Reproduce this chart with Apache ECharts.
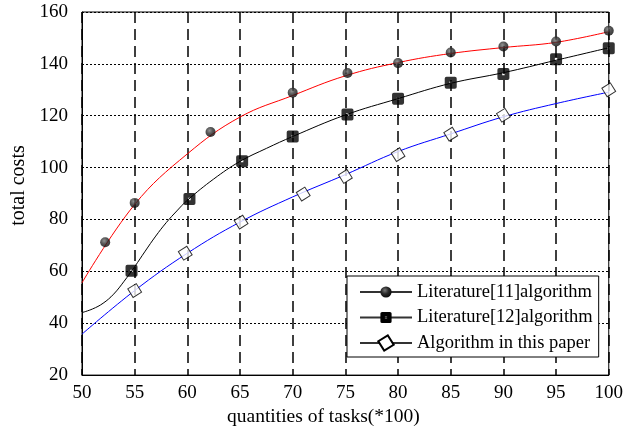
<!DOCTYPE html>
<html>
<head>
<meta charset="utf-8">
<script src="https://cdn.jsdelivr.net/npm/echarts@6/dist/echarts.min.js"></script>
<style>
  html, body { margin: 0; padding: 0; background: #fff; }
  #chart { width: 626px; height: 432px; }
</style>
</head>
<body>
<div id="chart"></div>
<script>
// series names
var names = ['Literature[11]algorithm', 'Literature[12]algorithm', 'Algorithm in this paper'];

// fitted curves
var curveX = [50, 55, 60, 65, 70, 75, 80, 85, 90, 95, 100];
var curve11 = [55.6, 85.8, 105.3, 119.5, 127.8, 135.4, 140.5, 144, 146.3, 148.3, 152.4];
var curve12X = [50, 51, 52, 53, 54, 55, 56, 57, 58, 59, 60, 62.5, 65, 67.5, 70, 75, 80, 85, 90, 95, 100];
var curve12 = [44.1, 45.5, 47.7, 51.2, 56.2, 61.8, 67.8, 73.6, 78.8, 83.3, 87.4, 95.6, 102.4, 107.4, 112, 120.3, 126.6, 132.5, 136.6, 141.4, 146.2];
var curveOurs = [35.8, 52.6, 67, 79, 88.7, 97.3, 106.2, 113, 119.6, 124.7, 129.1];

// marker points
var pts11X = [52.2, 55, 62.2, 70, 75.2, 80, 85, 90, 95, 100];
var pts11 = [71.2, 86.4, 113.7, 128.9, 136.5, 140.3, 144.4, 146.7, 148.6, 152.8];
var pts12X = [54.7, 60.2, 65.2, 70, 75.2, 80, 85, 90, 95, 100];
var pts12 = [60.2, 87.9, 102.5, 112, 120.5, 126.6, 132.7, 136.1, 141.8, 146];
var ptsOursX = [55, 59.8, 65.1, 71, 75, 80, 85, 90, 100];
var ptsOurs = [52.6, 67, 79, 89.8, 96.6, 105, 112.9, 120.2, 130];

function pairs(xs, ys) {
    var out = [];
    for (var i = 0; i < xs.length; i++) out.push([xs[i], ys[i]]);
    return out;
}

var serif = 'Liberation Serif';
var ballColor = {
    type: 'radial', x: 0.4, y: 0.35, r: 0.65,
    colorStops: [{ offset: 0, color: '#777' }, { offset: 0.5, color: '#2a2a2a' }, { offset: 1, color: '#0a0a0a' }]
};
var squarePath = 'path://M1.5,0H8.5Q10,0 10,1.5V8.5Q10,10 8.5,10H1.5Q0,10 0,8.5V1.5Q0,0 1.5,0ZM4,4V6H6V4Z';

var markers = [
    { symbol: 'circle', symbolSize: 10, symbolRotate: 0, itemStyle: { color: ballColor } },
    { symbol: squarePath, symbolSize: 12, symbolRotate: 0, itemStyle: { color: '#000' } },
    { symbol: 'rect', symbolSize: 10, symbolRotate: 32, itemStyle: { color: '#fff', borderColor: '#000', borderWidth: 1 } }
];

var series = [];
// legend-only series
names.forEach(function (n, i) {
    series.push({
        name: n, type: 'line', data: [],
        symbol: markers[i].symbol, symbolSize: markers[i].symbolSize,
        symbolRotate: markers[i].symbolRotate,
        itemStyle: markers[i].itemStyle,
        lineStyle: { color: '#333', width: 1.2 }
    });
});
// curves
var curves = [
    { d: pairs(curveX, curve11), c: '#ff0000' },
    { d: pairs(curve12X, curve12), c: '#000000' },
    { d: pairs(curveX, curveOurs), c: '#0000ff' }
];
curves.forEach(function (cv, i) {
    series.push({
        name: 'curve' + i, type: 'line', data: cv.d,
        smooth: 0.4,
        showSymbol: false, symbol: 'none',
        lineStyle: { color: cv.c, width: 1 }, z: 3, silent: true
    });
});
// markers
var pts = [pairs(pts11X, pts11), pairs(pts12X, pts12), pairs(ptsOursX, ptsOurs)];
pts.forEach(function (p, i) {
    series.push({
        name: 'pts' + i, type: 'scatter', data: p,
        symbol: markers[i].symbol, symbolSize: markers[i].symbolSize,
        symbolRotate: markers[i].symbolRotate,
        itemStyle: markers[i].itemStyle, z: 4, silent: true
    });
});

var myChart = echarts.init(document.getElementById('chart'), null, { renderer: 'canvas' });
myChart.setOption({
    animation: false,
    backgroundColor: '#fff',
    grid: {
        left: 82, right: 13, top: 12, bottom: 51,
        show: true, borderColor: '#000', borderWidth: 1
    },
    legend: {
        data: names,
        orient: 'vertical',
        left: 347, top: 276,
        padding: [6, 6, 4, 12],
        itemWidth: 52, itemHeight: 14, itemGap: 5.5,
        backgroundColor: '#fff',
        borderColor: '#000', borderWidth: 1,
        selectedMode: false,
        textStyle: { fontFamily: serif, fontSize: 18.5, color: '#000', lineHeight: 20 }
    },
    xAxis: {
        type: 'value', min: 50, max: 100, interval: 5,
        name: 'quantities of tasks(*100)',
        nameLocation: 'middle', nameGap: 23,
        nameTextStyle: { fontFamily: serif, fontSize: 19.5, color: '#000', padding: [0, 44, 0, 0] },
        axisLine: { show: true, lineStyle: { color: '#000', width: 1 } },
        axisTick: { show: false },
        axisLabel: { fontFamily: serif, fontSize: 19, color: '#000', margin: 8 },
        splitLine: { show: true, lineStyle: { color: '#000', width: 1.5, type: [11, 6] } }
    },
    yAxis: {
        type: 'value', min: 20, max: 160, interval: 20,
        name: 'total costs',
        nameLocation: 'middle', nameGap: 53,
        nameTextStyle: { fontFamily: serif, fontSize: 20, color: '#000', padding: [0, 0, 0, 16] },
        axisLine: { show: true, lineStyle: { color: '#000', width: 1 } },
        axisTick: { show: false },
        axisLabel: { fontFamily: serif, fontSize: 19, color: '#000', margin: 14 },
        splitLine: { show: true, lineStyle: { color: '#000', width: 1, type: [2, 2] } }
    },
    series: series
});
</script>
</body>
</html>
